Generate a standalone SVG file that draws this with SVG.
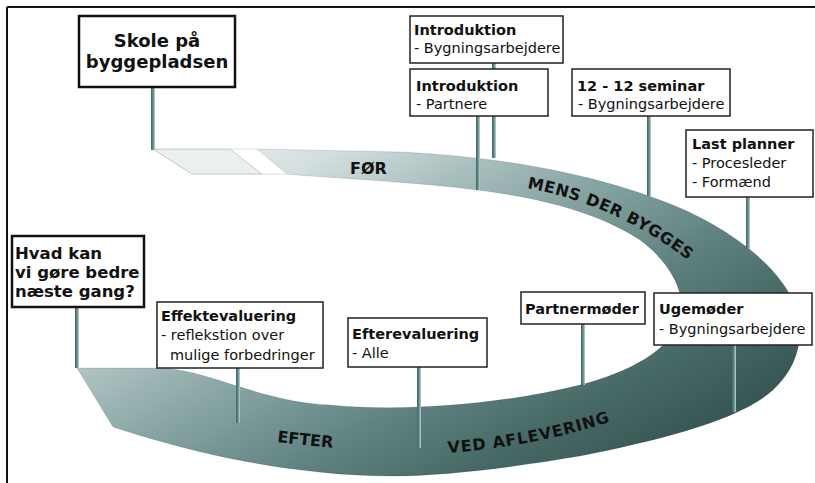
<svg xmlns="http://www.w3.org/2000/svg" width="815" height="483" viewBox="0 0 815 483">
<defs>
<linearGradient id="band" gradientUnits="userSpaceOnUse" x1="101" y1="179" x2="351" y2="621">
<stop offset="0" stop-color="#eef3f3"/>
<stop offset="0.18" stop-color="#d3dede"/>
<stop offset="0.33" stop-color="#aac0bf"/>
<stop offset="0.5" stop-color="#84a2a0"/>
<stop offset="0.68" stop-color="#618482"/>
<stop offset="0.86" stop-color="#476966"/>
<stop offset="1" stop-color="#385855"/>
</linearGradient>
<linearGradient id="post" x1="0" y1="0" x2="1" y2="0">
<stop offset="0" stop-color="#3c6866"/>
<stop offset="0.5" stop-color="#5f8886"/>
<stop offset="1" stop-color="#c4d5d4"/>
</linearGradient>
<path id="arcMens" d="M527,188 Q624,206 703,272"/>
<path id="arcVed" d="M448,453 Q540,446 618,419"/>
</defs>
<style>
.t{font-family:"DejaVu Sans",Verdana,sans-serif;font-size:14.5px;fill:#111}
.b{font-weight:bold}
.big{font-size:18px}
.hv{font-size:16.5px}
.lbl{font-family:"DejaVu Sans",Verdana,sans-serif;font-size:16px;font-weight:bold;fill:#111}
.box{fill:#fff;stroke:#222;stroke-width:1.5}
.bigbox{fill:#fff;stroke:#111;stroke-width:2.5}
.post{fill:url(#post)}
</style>
<rect x="0" y="0" width="815" height="483" fill="#fff"/>
<g id="frame">
<line x1="7" y1="7" x2="815" y2="7" stroke="#111" stroke-width="2"/>
<line x1="7" y1="7" x2="7" y2="483" stroke="#111" stroke-width="2"/>
</g>
<g id="ring">
<path d="M257,149 L400,152 C520,158 600,178 660,200 C720,222 770,258 790,295 C808,330 800,365 773,390 C740,420 660,440 580,456 C520,466 450,476 390,476 C320,476 240,462 193,450 C170,444 140,436 113,427 L77,368 L160,368 C210,370 260,402 330,405 C400,412 500,405 580,385 C630,372 670,350 680,320 C688,295 670,262 640,240 C610,220 560,200 477,190 C420,182 300,176 287,174 Z" fill="url(#band)" stroke="#000" stroke-opacity="0.15" stroke-width="0.8"/>
<polygon points="153,149 230,149 262,174 192,174" fill="#eceff0" stroke="#b3bdbd" stroke-width="0.8"/>
<polygon points="230,149 257,149 287,174 262,174" fill="#fff" stroke="#c2caca" stroke-width="0.6"/>
<text class="lbl" x="350" y="174">FØR</text>
<text class="lbl" letter-spacing="0.5"><textPath href="#arcMens">MENS DER BYGGES</textPath></text>
<text class="lbl" transform="translate(277,442) rotate(6)">EFTER</text>
<text class="lbl" letter-spacing="0.8"><textPath href="#arcVed">VED AFLEVERING</textPath></text>
</g>
<g id="connectors">
<rect class="post" x="151" y="88" width="4" height="62"/>
<rect class="post" x="492" y="63" width="4" height="95"/>
<rect class="post" x="476" y="116" width="4" height="74"/>
<rect class="post" x="647" y="116" width="4" height="80"/>
<rect class="post" x="746" y="197" width="4" height="52"/>
<rect class="post" x="75" y="307" width="4" height="61"/>
<rect class="post" x="236" y="368" width="4" height="55"/>
<rect class="post" x="417" y="367" width="4" height="81"/>
<rect class="post" x="581" y="324" width="4" height="61"/>
<rect class="post" x="732" y="345" width="4" height="67"/>
</g>
<g id="skole">
<rect class="bigbox" x="79" y="16" width="156" height="71"/>
<text class="t b big" x="157" y="47" text-anchor="middle">Skole på</text>
<text class="t b big" x="157" y="68" text-anchor="middle">byggepladsen</text>
</g>
<g id="intro-bygning">
<rect class="box" x="410" y="16" width="153" height="47"/>
<text class="t b" x="414" y="35">Introduktion</text>
<text class="t" x="414" y="53">- Bygningsarbejdere</text>
</g>
<g id="intro-partnere">
<rect class="box" x="410" y="69" width="138" height="47"/>
<text class="t b" x="416" y="91">Introduktion</text>
<text class="t" x="416" y="109">- Partnere</text>
</g>
<g id="seminar">
<rect class="box" x="572" y="69" width="158" height="47"/>
<text class="t b" x="577" y="91">12 - 12 seminar</text>
<text class="t" x="578" y="109">- Bygningsarbejdere</text>
</g>
<g id="lastplanner">
<rect class="box" x="686" y="130" width="127" height="67"/>
<text class="t b" x="692" y="149">Last planner</text>
<text class="t" x="692" y="168">- Procesleder</text>
<text class="t" x="692" y="187">- Formænd</text>
</g>
<g id="hvad">
<rect class="bigbox" x="12" y="236" width="132" height="71"/>
<text class="t b hv" x="15" y="259">Hvad kan</text>
<text class="t b hv" x="15" y="278">vi gøre bedre</text>
<text class="t b hv" x="15" y="297">næste gang?</text>
</g>
<g id="effekt">
<rect class="box" x="157" y="302" width="166" height="66"/>
<text class="t b" x="161" y="321">Effektevaluering</text>
<text class="t" x="161" y="340">- reflekstion over</text>
<text class="t" x="170" y="360">mulige forbedringer</text>
</g>
<g id="efter">
<rect class="box" x="348" y="318" width="139" height="49"/>
<text class="t b" x="352" y="339">Efterevaluering</text>
<text class="t" x="352" y="358">- Alle</text>
</g>
<g id="partnermoder">
<rect class="box" x="521" y="292" width="124" height="32"/>
<text class="t b" x="525" y="314">Partnermøder</text>
</g>
<g id="ugemoder">
<rect class="box" x="654" y="293" width="158" height="52"/>
<text class="t b" x="659" y="314">Ugemøder</text>
<text class="t" x="659" y="334">- Bygningsarbejdere</text>
</g>
</svg>
